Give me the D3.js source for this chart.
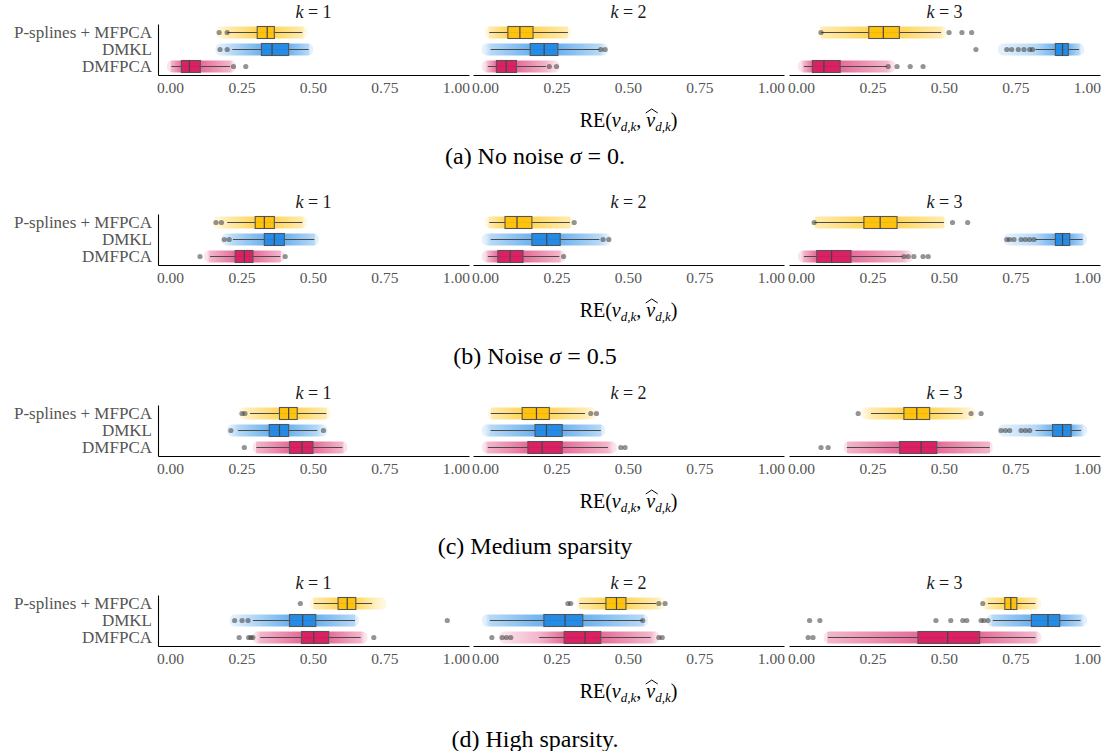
<!DOCTYPE html>
<head>
  <meta charset="utf-8">
  <script src="https://d3js.org/d3.v7.min.js"></script>
  <style>
    body { margin: 0; background: #fff; }
    svg { width: 1107px; height: 751px; display: block; }
    text { font-family: "Liberation Serif", "DejaVu Serif", serif; }
  </style>
</head>

<body>
  <svg></svg>
  <script>
    // ---- data ----
    var methods = ['P-splines + MFPCA', 'DMKL', 'DMFPCA'];
    var methodColors = ['#FFC107', '#1E88E5', '#D81B60'];
    var kValues = [1, 2, 3];
    var xTicks = [0, 0.25, 0.5, 0.75, 1];
    var captions = ['(a) No noise σ = 0.', '(b) Noise σ = 0.5', '(c) Medium sparsity', '(d) High sparsity.'];

    // one entry per box: k, method index, s = [whisker lo, q1, median, q3, whisker hi],
    // c = extent of the jittered points, o = outliers
    var noNoise = [
      {k: 1, m: 0, s: [0.200, 0.305, 0.340, 0.365, 0.463], c: [0.17, 0.47], o: [0.172, 0.200]},
      {k: 1, m: 1, s: [0.218, 0.320, 0.357, 0.415, 0.485], c: [0.17, 0.49], o: [0.175, 0.200]},
      {k: 1, m: 2, s: [0.005, 0.040, 0.068, 0.106, 0.210], c: [0.00, 0.22], o: [0.222, 0.265]},
      {k: 2, m: 0, s: [0.015, 0.080, 0.122, 0.168, 0.290], c: [0.01, 0.29], o: []},
      {k: 2, m: 1, s: [0.020, 0.158, 0.207, 0.255, 0.400], c: [0.00, 0.42], o: [0.405, 0.420]},
      {k: 2, m: 2, s: [0.010, 0.040, 0.074, 0.110, 0.213], c: [0.00, 0.25], o: [0.225, 0.250]},
      {k: 3, m: 0, s: [0.070, 0.237, 0.288, 0.344, 0.490], c: [0.07, 0.50], o: [0.070, 0.518, 0.563, 0.597]},
      {k: 3, m: 1, s: [0.820, 0.890, 0.915, 0.935, 0.973], c: [0.70, 0.98], o: [0.612, 0.720, 0.737, 0.760, 0.780, 0.800, 0.810]},
      {k: 3, m: 2, s: [0.010, 0.040, 0.080, 0.137, 0.300], c: [0.00, 0.32], o: [0.305, 0.336, 0.382, 0.427]}
    ];
    var noise = [
      {k: 1, m: 0, s: [0.200, 0.298, 0.330, 0.365, 0.463], c: [0.16, 0.47], o: [0.161, 0.180]},
      {k: 1, m: 1, s: [0.220, 0.330, 0.365, 0.400, 0.505], c: [0.19, 0.51], o: [0.190, 0.207]},
      {k: 1, m: 2, s: [0.140, 0.228, 0.260, 0.290, 0.386], c: [0.13, 0.39], o: [0.105, 0.403]},
      {k: 2, m: 0, s: [0.015, 0.070, 0.112, 0.164, 0.297], c: [0.01, 0.30], o: [0.312]},
      {k: 2, m: 1, s: [0.020, 0.164, 0.216, 0.263, 0.400], c: [0.00, 0.43], o: [0.413, 0.433]},
      {k: 2, m: 2, s: [0.010, 0.045, 0.088, 0.133, 0.260], c: [0.00, 0.27], o: [0.275]},
      {k: 3, m: 0, s: [0.046, 0.220, 0.277, 0.336, 0.500], c: [0.05, 0.50], o: [0.046, 0.530, 0.583]},
      {k: 3, m: 1, s: [0.820, 0.890, 0.915, 0.940, 0.985], c: [0.72, 0.99], o: [0.720, 0.730, 0.745, 0.770, 0.785, 0.800, 0.815]},
      {k: 3, m: 2, s: [0.010, 0.055, 0.107, 0.175, 0.355], c: [0.00, 0.38], o: [0.360, 0.375, 0.395, 0.427, 0.445]}
    ];
    var mediumSparsity = [
      {k: 1, m: 0, s: [0.280, 0.383, 0.415, 0.445, 0.547], c: [0.25, 0.55], o: [0.252, 0.262]},
      {k: 1, m: 1, s: [0.238, 0.347, 0.383, 0.415, 0.515], c: [0.21, 0.54], o: [0.213, 0.537]},
      {k: 1, m: 2, s: [0.302, 0.418, 0.462, 0.500, 0.603], c: [0.30, 0.61], o: [0.260]},
      {k: 2, m: 0, s: [0.020, 0.130, 0.180, 0.225, 0.350], c: [0.02, 0.38], o: [0.370, 0.390]},
      {k: 2, m: 1, s: [0.020, 0.175, 0.215, 0.270, 0.405], c: [0.00, 0.41], o: []},
      {k: 2, m: 2, s: [0.010, 0.150, 0.200, 0.270, 0.430], c: [0.00, 0.45], o: [0.475, 0.490]},
      {k: 3, m: 0, s: [0.245, 0.360, 0.405, 0.450, 0.565], c: [0.22, 0.60], o: [0.200, 0.595, 0.630]},
      {k: 3, m: 1, s: [0.820, 0.880, 0.915, 0.945, 0.980], c: [0.70, 0.99], o: [0.700, 0.715, 0.730, 0.770, 0.785, 0.800]},
      {k: 3, m: 2, s: [0.160, 0.345, 0.420, 0.475, 0.660], c: [0.16, 0.66], o: [0.070, 0.095]}
    ];
    var highSparsity = [
      {k: 1, m: 0, s: [0.503, 0.588, 0.620, 0.650, 0.707], c: [0.50, 0.747], o: [0.456]},
      {k: 1, m: 1, s: [0.290, 0.418, 0.464, 0.510, 0.647], c: [0.22, 0.65], o: [0.226, 0.252, 0.273, 0.970]},
      {k: 1, m: 2, s: [0.316, 0.460, 0.503, 0.555, 0.667], c: [0.30, 0.68], o: [0.242, 0.275, 0.283, 0.290, 0.713]},
      {k: 2, m: 0, s: [0.330, 0.423, 0.460, 0.493, 0.598], c: [0.33, 0.62], o: [0.290, 0.300, 0.608, 0.630]},
      {k: 2, m: 1, s: [0.017, 0.206, 0.280, 0.342, 0.552], c: [0.00, 0.56], o: [0.552]},
      {k: 2, m: 2, s: [0.189, 0.277, 0.350, 0.405, 0.580], c: [0.06, 0.60], o: [0.024, 0.060, 0.075, 0.090, 0.608, 0.620]},
      {k: 3, m: 0, s: [0.654, 0.713, 0.734, 0.755, 0.820], c: [0.64, 0.83], o: [0.636]},
      {k: 3, m: 1, s: [0.671, 0.806, 0.864, 0.905, 0.978], c: [0.66, 0.99], o: [0.030, 0.066, 0.472, 0.524, 0.566, 0.580, 0.630, 0.640, 0.654]},
      {k: 3, m: 2, s: [0.094, 0.409, 0.513, 0.625, 0.820], c: [0.09, 0.83], o: [0.025, 0.042]}
    ];
    var scenarios = [noNoise, noise, mediumSparsity, highSparsity];

    // ---- layout ----
    var panelX = [158, 473, 789];
    var panelW = 311;
    var rowTop = [0, 190, 381, 571];
    var captionY = [156, 356, 546, 739];
    var boxH = 12;

    var svg = d3.select('svg');
    var defs = svg.append('defs');

    scenarios.forEach(function(boxes, i) {
      var top = rowTop[i];
      var y = d3.scaleBand().domain(methods).range([top + 24, top + 75]);

      kValues.forEach(function(k, j) {
        var x = d3.scaleLinear()
          .domain([-0.042, 1.046])
          .range([panelX[j], panelX[j] + panelW]);
        var panel = svg.append('g').attr('class', 'panel');

        // facet strip title
        var strip = panel.append('text')
          .attr('x', panelX[j] + panelW / 2)
          .attr('y', top + 18)
          .attr('text-anchor', 'middle')
          .style('font-size', '18px')
          .attr('fill', '#1a1a1a');
        strip.append('tspan').style('font-style', 'italic').text('k');
        strip.append('tspan').text(' = ' + k);

        // x axis
        var xAxis = panel.append('g')
          .attr('transform', 'translate(0,' + (top + 75) + ')')
          .call(d3.axisBottom(x).tickValues(xTicks).tickFormat(d3.format('.2f'))
            .tickSize(0).tickSizeOuter(0).tickPadding(7));
        xAxis.select('.domain').attr('stroke', '#000').attr('stroke-width', 1.1);
        xAxis.selectAll('text')
          .attr('fill', '#555')
          .style('font-size', '15.5px')
          .style('font-family', '"Liberation Serif", serif');

        // y axis only on first panel
        if (j === 0) {
          var yAxis = panel.append('g')
            .attr('transform', 'translate(' + panelX[0] + ',0)')
            .call(d3.axisLeft(y).tickSize(0).tickSizeOuter(0).tickPadding(6));
          yAxis.select('.domain').attr('stroke', '#000').attr('stroke-width', 1.1);
          yAxis.selectAll('text')
            .attr('fill', '#555')
            .style('font-size', '17px')
            .style('font-family', '"Liberation Serif", serif');
        }

        var groups = panel.selectAll('g.box')
          .data(boxes.filter(function(d) { return d.k === k; }))
          .enter().append('g')
          .attr('class', 'box');

        groups.each(function(d) {
          var g = d3.select(this);
          var cy = y(methods[d.m]) + y.bandwidth() / 2;
          var col = methodColors[d.m];
          var gid = 'cloud' + i + '_' + j + '_' + d.m;
          var x0 = x(d.c[0]), x1 = x(d.c[1]);
          var span = Math.max(x1 - x0, 1);
          function off(v) { return Math.min(1, Math.max(0, (x(v) - x0) / span)); }

          // jittered points cloud, denser near the box
          var grad = defs.append('linearGradient')
            .attr('id', gid)
            .attr('gradientUnits', 'userSpaceOnUse')
            .attr('x1', x0).attr('x2', x1).attr('y1', 0).attr('y2', 0);
          [[0, 0.12], [off(d.s[0]), 0.32], [off(d.s[1]), 0.65], [off(d.s[3]), 0.65],
           [off(d.s[4]), 0.32], [1, 0.12]].forEach(function(st) {
            grad.append('stop').attr('offset', st[0])
              .attr('stop-color', col).attr('stop-opacity', st[1]);
          });
          g.append('rect')
            .attr('x', x0 - 3).attr('width', span + 6)
            .attr('y', cy - 6).attr('height', 12)
            .attr('rx', 5)
            .attr('fill', 'url(#' + gid + ')');

          // whisker
          g.append('line')
            .attr('x1', x(d.s[0])).attr('x2', x(d.s[4]))
            .attr('y1', cy).attr('y2', cy)
            .attr('stroke', '#4a4a4a').attr('stroke-width', 1);

          // box
          g.append('rect')
            .attr('x', x(d.s[1])).attr('width', x(d.s[3]) - x(d.s[1]))
            .attr('y', cy - boxH / 2).attr('height', boxH)
            .attr('fill', col).attr('fill-opacity', 0.92)
            .attr('stroke', '#555').attr('stroke-width', 1.1);
          g.append('line')
            .attr('x1', x(d.s[2])).attr('x2', x(d.s[2]))
            .attr('y1', cy - boxH / 2).attr('y2', cy + boxH / 2)
            .attr('stroke', '#444').attr('stroke-width', 1.2);

          // outliers
          g.selectAll('circle')
            .data(d.o).enter().append('circle')
            .attr('cx', function(v) { return x(v); })
            .attr('cy', cy)
            .attr('r', 2.6)
            .attr('fill', '#3d3d3d')
            .attr('fill-opacity', 0.55);
        });
      });

      // shared x axis title under middle panel
      var title = svg.append('text')
        .attr('x', panelX[1] + panelW / 2)
        .attr('y', top + 127)
        .attr('text-anchor', 'middle')
        .style('font-size', '20px')
        .attr('fill', '#000');
      title.append('tspan').text('RE(');
      title.append('tspan').style('font-style', 'italic').text('ν');
      title.append('tspan').style('font-style', 'italic').style('font-size', '13px')
        .attr('dy', 4).text('d,k');
      title.append('tspan').attr('dy', -4).text(', ');
      title.append('tspan').style('font-style', 'italic').text('ν');
      title.append('tspan').style('font-style', 'italic').style('font-size', '13px')
        .attr('dy', 4).text('d,k');
      title.append('tspan').attr('dy', -4).text(')');

      // hat over the second nu (character index 9)
      var ext = title.node().getExtentOfChar(9);
      var hx = ext.x + ext.width / 2 + 1, hy = top + 113;
      svg.append('path')
        .attr('d', 'M' + (hx - 6) + ',' + hy + 'L' + hx + ',' + (hy - 4) + 'L' + (hx + 6) + ',' + hy)
        .attr('fill', 'none')
        .attr('stroke', '#000')
        .attr('stroke-width', 1);

      // sub-figure caption
      var cap = svg.append('text')
        .attr('x', 535)
        .attr('y', captionY[i] + 8)
        .attr('text-anchor', 'middle')
        .style('font-size', '24px')
        .attr('fill', '#000');
      var parts = captions[i].split('σ');
      cap.append('tspan').text(parts[0]);
      if (parts.length > 1) {
        cap.append('tspan').style('font-style', 'italic').text('σ');
        cap.append('tspan').text(parts[1]);
      }
    });
  </script>
</body>
